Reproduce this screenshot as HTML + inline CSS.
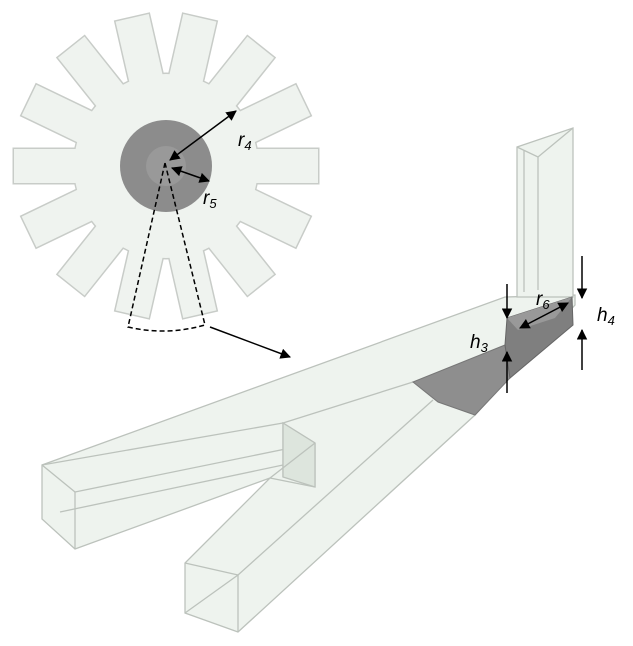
<!DOCTYPE html>
<html><head><style>body{margin:0;background:#fff}svg{display:block}text{font-family:"Liberation Sans",sans-serif;font-style:italic}</style></head><body>
<svg width="633" height="646" viewBox="0 0 633 646" xmlns="http://www.w3.org/2000/svg">
<defs>
<g id="gear">
<circle cx="0" cy="0" r="92"/>
<g id="t"><rect x="80" y="-17" width="72" height="34"/></g>
<use href="#t" transform="rotate(25.714)"/><use href="#t" transform="rotate(51.43)"/><use href="#t" transform="rotate(77.14)"/><use href="#t" transform="rotate(102.86)"/><use href="#t" transform="rotate(128.57)"/><use href="#t" transform="rotate(154.29)"/><use href="#t" transform="rotate(180)"/><use href="#t" transform="rotate(205.71)"/><use href="#t" transform="rotate(231.43)"/><use href="#t" transform="rotate(257.14)"/><use href="#t" transform="rotate(282.86)"/><use href="#t" transform="rotate(308.57)"/><use href="#t" transform="rotate(334.29)"/>
</g>
<marker id="ah" viewBox="0 0 10 10" refX="9" refY="5" markerWidth="7" markerHeight="7" orient="auto-start-reverse"><path d="M0,0L10,5L0,10z" fill="#000"/></marker>
</defs>
<g transform="translate(166,166)">
<use href="#gear" fill="#c8ccc8" stroke="#c8ccc8" stroke-width="3"/>
<use href="#gear" fill="#eff3ef"/>
<circle r="46" fill="#8c8c8c"/>
<circle r="20" fill="#999"/>
</g>
<!-- gear annotations -->
<path d="M165,163 L128,327 Q166,336 205,325 L165,163" fill="none" stroke="#000" stroke-width="1.5" stroke-dasharray="5,3"/>
<line x1="210" y1="327" x2="290" y2="357" stroke="#000" stroke-width="1.5" marker-end="url(#ah)"/>
<line x1="170" y1="160" x2="236" y2="111" stroke="#000" stroke-width="1.5" marker-start="url(#ah)" marker-end="url(#ah)"/>
<line x1="172" y1="168" x2="209" y2="181" stroke="#000" stroke-width="1.5" marker-start="url(#ah)" marker-end="url(#ah)"/>
<text x="238" y="146" font-size="19" font-style="normal">r<tspan font-size="13" dy="4">4</tspan></text>
<text x="203" y="204" font-size="19" font-style="normal">r<tspan font-size="13" dy="4">5</tspan></text>
<!-- 3D channels -->
<g stroke="#bcc2bc" stroke-width="1.3" fill="#eef3ee">
<polygon points="505,297 575,295 575,305 475,415 238,632 185,613 185,563 270,478 75,549 42,519 42,465"/>
<line x1="42" y1="465" x2="75" y2="492"/><line x1="75" y1="492" x2="75" y2="549"/>
<line x1="75" y1="492" x2="315" y2="443"/><line x1="42" y1="465" x2="283" y2="423"/>
<line x1="283" y1="423" x2="315" y2="443"/><line x1="315" y1="443" x2="315" y2="487"/>
<line x1="283" y1="423" x2="283" y2="477"/><line x1="60" y1="512" x2="283" y2="465"/>
<line x1="283" y1="423" x2="413" y2="382"/>
<polygon points="283,477 315,487 315,443 283,423" fill="#dde5dd"/>
<line x1="185" y1="563" x2="238" y2="575"/><line x1="238" y1="575" x2="238" y2="632"/>
<line x1="185" y1="613" x2="238" y2="575"/>
<line x1="238" y1="575" x2="433" y2="400"/><line x1="270" y1="478" x2="315" y2="487"/>
<line x1="270" y1="478" x2="315" y2="443"/>
<polygon points="517,147 573,128 573,297 517,297"/>
<polyline points="517,147 538,157 573,128" fill="none"/>
<line x1="538" y1="157" x2="538" y2="290"/><line x1="524" y1="150" x2="524" y2="292"/>
</g>
<polygon points="413,382 505,345 510,378 475,415 438,402" fill="#8e8e8e" stroke="#777"/>
<polygon points="507,318 572,297 573,325 510,378 505,345" fill="#7f7f7f" stroke="#666"/>
<polygon points="507,318 572,297 555,318 518,330" fill="#999"/>
<!-- dimension arrows -->
<g stroke="#000" stroke-width="1.5">
<line x1="507" y1="284" x2="507" y2="318" marker-end="url(#ah)"/>
<line x1="507" y1="393" x2="507" y2="352" marker-end="url(#ah)"/>
<line x1="582" y1="256" x2="582" y2="298" marker-end="url(#ah)"/>
<line x1="582" y1="370" x2="582" y2="330" marker-end="url(#ah)"/>
<line x1="520" y1="328" x2="568" y2="303" marker-start="url(#ah)" marker-end="url(#ah)"/>
</g>
<text x="470" y="348" font-size="19">h<tspan font-size="13" dy="4">3</tspan></text>
<text x="597" y="321" font-size="19">h<tspan font-size="13" dy="4">4</tspan></text>
<text x="536" y="305" font-size="19">r<tspan font-size="13" dy="4">6</tspan></text>
</svg>
</body></html>
